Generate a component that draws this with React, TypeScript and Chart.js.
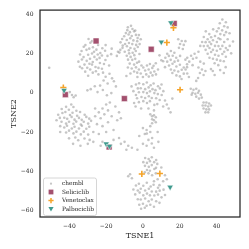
import React, { useEffect, useRef } from 'react';
import { Chart, registerables } from 'chart.js';

Chart.register(...registerables);

type Pt = [number, number];

const xTickValues = [-40, -20, 0, 20, 40];
const yTickValues = [-60, -40, -20, 0, 20, 40];
const seriesNames = ['chembl', 'Seliciclib', 'Venetoclax', 'Palbociclib'];

const chemblUpperLeft: Pt[] = [
  [-31.3, 24.2], [-28.6, 25.4], [-27.2, 23.1], [-24.4, 24.3], [-22.1, 22.6], [-33.4, 21.2], [-30.7, 21.8], [-29.2, 22.4], [-26.6, 20.8], [-25.3, 21.9],
  [-23.2, 20.2], [-20.6, 21.3], [-19.3, 18.7], [-34.2, 19.4], [-32.3, 18.1], [-29.8, 19.3], [-27.7, 19.9], [-26.4, 18.2], [-23.6, 17.7], [-22.3, 18.9],
  [-20.4, 16.6], [-35.1, 15.8], [-33.2, 16.9], [-30.6, 16.2], [-28.8, 17.3], [-27.3, 15.6], [-25.1, 16.9], [-23.4, 15.1], [-21.2, 14.6], [-34.3, 13.2],
  [-31.8, 14.3], [-30.3, 12.7], [-27.7, 14.3], [-25.8, 13.1], [-24.2, 12.6], [-31.4, 10.7], [-28.7, 11.8], [-27.3, 10.2], [-33.1, 12.4], [-29.8, 8.6],
  [-25.6, 10.9], [-22.3, 12.2], [-18.4, 13.8], [-17.3, 19.6], [-29.6, 27.3], [-32.2, 23.4], [-20.3, 24.2], [-27.7, 26.2], [-24.6, 19.4], [-29.1, 14.7],
  [-17, 22.4], [-12.8, 20.4],
];

const chemblLeftTail: Pt[] = [
  [-24.2, 9.3], [-21.7, 10.2], [-20.3, 8.1], [-18.2, 9.6], [-16.8, 7.3], [-21.4, 6.2], [-19.2, 4.7], [-15.8, 5.8], [-23.3, 3.6], [-26.2, 3.3],
  [-28.4, 1.8], [-24.7, 0.3], [-21.8, 1.4], [-30.2, 1.2], [-19.6, -1.3], [-17.2, -0.2], [-14.7, 3.2], [-39.8, 0.3], [-38.6, -1.2], [-37.7, -2.3],
  [-36.6, -1.4], [-51, 12.7],
];

const chemblUpperMid: Pt[] = [
  [-8.2, 33.3], [-5.7, 32.4], [-7.1, 30.8], [-4.8, 31.2], [-9.3, 30.3], [-10.2, 28.7], [-7.8, 29.6], [-6.1, 28.8], [-3.8, 29.4], [-2.9, 27.8],
  [-11.3, 27.3], [-8.8, 26.8], [-6.9, 27.7], [-5.2, 26.6], [-3.1, 26.2], [-1.8, 24.7], [-12.2, 25.6], [-9.7, 24.8], [-7.6, 25.3], [-5.8, 24.7],
  [-3.7, 24.3], [-11.1, 22.8], [-8.7, 23.6], [-6.8, 22.7], [-4.6, 22.3], [-2.8, 23.2], [-9.9, 20.8], [-7.7, 21.6], [-5.6, 20.3], [-3.9, 21.2],
  [-1.9, 19.7], [-8.8, 18.8], [-6.7, 18.2], [-4.7, 19.1], [-12.3, 21.8], [-13.6, 20.8], [-14.2, 18.7], [-1.2, 27.2], [-2.2, 29.3], [-4.2, 31.6],
  [-6.5, 34], [-8.5, 31.8], [-11, 24], [-7.5, 20],
];

const chemblMid: Pt[] = [
  [-8.1, 16.8], [-5.8, 16.7], [-4.2, 17.2], [-2.1, 15.8], [-7.2, 14.8], [-4.8, 14.3], [-3.2, 15.2], [-0.8, 13.8], [-8.2, 12.8], [-6.1, 12.3],
  [-3.8, 12.9], [-2.2, 11.8], [0.2, 12.8], [-4.8, 10.8], [-3.1, 10.2], [-6.8, 9.8], [-1.2, 9.8], [1.2, 11.3], [2.2, 13.8], [3.1, 11.8],
  [4.2, 10.2], [5.1, 12.6], [6.2, 10.8], [7.1, 9.3], [5.2, 8.8], [3.2, 8.2], [5.8, 13.7], [3.8, 14.6], [1.8, 9.3], [8.2, 11.8],
  [-9, 8.5], [0, 8], [-3, 8], [7, 15],
];

const chemblRightMid: Pt[] = [
  [19.2, 27.2], [21.1, 26.3], [20.2, 24.8], [22.2, 24.3], [23.1, 26.2], [19.6, 22.8], [21.7, 22.2], [13.2, 19.8], [15.2, 21.2], [17.1, 20.3],
  [12.2, 17.8], [14.1, 18.7], [16.2, 18.8], [18.1, 17.8], [20.2, 18.7], [13.2, 15.8], [15.1, 16.7], [17.2, 15.8], [19.1, 16.3], [14.2, 13.8],
  [16.1, 14.7], [18.2, 13.3], [20.1, 14.2], [22.2, 12.8], [15.2, 11.8], [17.1, 11.3], [19.2, 10.8], [21.1, 11.7], [23.2, 11.8], [18.2, 8.8],
  [20.1, 8.3], [22.2, 9.7], [24.1, 9.8], [21, 7], [16, 10], [12, 13], [11, 16], [24, 14.5], [25, 8], [9, 19], [10, 16.5],
];

const chemblUpperRight: Pt[] = [
  [43.2, 37.2], [45.1, 35.8], [41.8, 35.3], [44.2, 33.8], [46.1, 33.2], [41.2, 32.8], [43.1, 31.7], [45.2, 30.8], [40.2, 31.2], [42.1, 29.8],
  [44.2, 29.3], [47.1, 30.2], [39.2, 28.8], [41.1, 27.7], [38.2, 32.2], [36.1, 29.8], [34.2, 31.2], [33.1, 28.3], [35.2, 27.2], [37.1, 28.2],
  [32.2, 25.8], [34.1, 25.7], [36.2, 25.8], [38.1, 26.7], [40.2, 25.8], [42.1, 27.2], [44.2, 25.8], [46.1, 27.2], [31.2, 23.8], [33.1, 23.7],
  [35.2, 23.8], [37.1, 24.7], [39.2, 23.8], [41.1, 23.7], [43.2, 23.8], [45.1, 22.7], [47.2, 23.8], [34.1, 21.8], [36.2, 22.7], [38.1, 21.8],
  [40.2, 21.3], [42.1, 22.2], [44.2, 20.8], [46.1, 21.7], [35.2, 19.8], [37.1, 20.7], [39.2, 19.3], [41.1, 18.8], [43.2, 19.7], [45.1, 18.3],
  [36.2, 17.8], [38.1, 17.3], [40.2, 16.8], [42.1, 16.3], [39, 15], [41, 14], [44, 16], [48, 20], [49, 26],
  [30.2, 20.8], [28.1, 19.8], [26.2, 18.8], [24.1, 17.8], [27.2, 17.3], [29.1, 17.8], [25.2, 15.8], [23.1, 16.8], [27, 14], [24, 13],
  [31.2, 15.8], [33.1, 14.8], [30.2, 12.8], [32.1, 11.8], [31, 10], [33, 9], [30, 7.5], [29, 6], [34, 11], [37, 12],
  [39, 9], [38, 11], [45, 13], [44, 10], [42, 11.5],
];

const chemblSmallRight: Pt[] = [
  [26, 2], [27.5, 1.5], [29, 2], [30.5, 1], [27, 0], [28.5, -0.5], [30, 0], [31.5, -1], [29, -2], [30.5, -3],
  [32, -2.5], [26.5, -1], [33, -5], [34.5, -5], [36, -5.5], [32.5, -6.5], [34, -6.5], [35.5, -7], [37, -6.5], [33, -8],
  [34.5, -8.5], [36, -8.5], [34, -10], [35.5, -10],
];

const chemblCenter: Pt[] = [
  [-6.2, 3.2], [-3.8, 4.2], [-2.1, 4.8], [0.2, 4.3], [2.1, 5.2], [4.2, 3.8], [5.8, 4.7], [8.2, 3.3], [10.1, 4.2], [-5.2, 0.8],
  [-2.8, 2.2], [-1.2, 2.3], [1.2, 1.8], [3.1, 2.7], [5.2, 1.8], [6.8, 1.3], [9.2, 2.2], [11.1, 0.8], [-3.8, -1.2], [-2.2, 0.2],
  [0.2, 0.3], [2.2, -0.2], [3.8, 0.7], [6.2, -0.2], [8.1, -0.7], [10.2, -1.2], [-3.2, -2.8], [-0.8, -2.2], [1.2, -2.7], [3.2, -1.8],
  [4.8, -2.7], [7.2, -2.8], [9.1, -3.7], [-4.8, -5.2], [-2.2, -4.8], [0.2, -4.3], [2.2, -5.2], [3.8, -4.3], [6.2, -6.2], [7.8, -5.8],
  [-4, -7], [-1, -8], [3, -8], [6, -9], [12, -4], [13, -6], [14, -8], [15, -10], [11, -7], [16, -3],
];

const chemblLowerLeft: Pt[] = [
  [-44.2, -8.3], [-41.8, -7.2], [-40.3, -8.7], [-37.8, -7.3], [-36.2, -9.2], [-46.1, -11.2], [-43.8, -10.3], [-42.2, -9.8], [-39.7, -11.3], [-38.3, -10.2],
  [-35.8, -11.7], [-34.2, -9.8], [-31.7, -11.2], [-45.2, -12.8], [-42.8, -12.7], [-41.2, -13.3], [-38.8, -12.3], [-37.2, -13.7], [-34.8, -12.8], [-33.3, -13.8],
  [-30.8, -12.3], [-29.2, -13.2], [-44.3, -14.8], [-41.8, -15.7], [-40.2, -14.8], [-37.8, -15.8], [-36.3, -14.7], [-33.8, -16.2], [-32.2, -14.8], [-29.8, -15.7],
  [-28.2, -14.3], [-42.8, -17.7], [-41.3, -16.8], [-38.7, -18.2], [-37.2, -17.3], [-34.8, -18.2], [-33.2, -16.8], [-30.8, -18.3], [-29.2, -17.3], [-41.8, -20.2],
  [-40.2, -19.3], [-37.8, -20.7], [-36.2, -19.8], [-33.8, -21.2], [-32.2, -19.8], [-29.8, -21.3], [-40.2, -23.2], [-36.8, -22.8], [-35.2, -24.2], [-31.8, -23.3],
  [-29, -24], [-27, -25], [-38, -26], [-34, -27], [-30, -26], [-45, -17], [-47, -14], [-26, -12], [-24, -10], [-22, -8],
  [-20, -6], [-18, -5], [-26, -8], [-23, -13], [-21, -11], [-19, -9], [-17, -12], [-15, -7], [-13, -10], [-25, -16],
  [-22, -17], [-19, -15], [-14, -14], [-12, -13], [-27, -20], [-24, -21], [-20, -20], [-16, -19], [-13, -23], [-10, -25],
  [-8, -27], [-6, -28], [-23, -27], [-45, -20], [-39, -6], [-22, -25], [-16, -24], [-12, -26], [-9, -29],
];

const chemblLowerMid: Pt[] = [
  [4, -11], [5, -12], [6, -11.5], [7, -12.5], [5, -13.5], [6, -14], [7, -15], [5, -15.5], [0, -18], [2, -19],
  [1, -21], [4, -20], [-2, -22], [3, -24], [5, -23], [0, -26], [2, -27], [-3, -29], [6, -28], [4, -17],
  [8, -20], [2.1, -20.8], [4.8, -25.8], [8.4, -25],
];

const chemblBottom: Pt[] = [
  [1.2, -33.2], [3.1, -33.7], [4.8, -32.8], [7.2, -34.2], [0.2, -35.3], [2.2, -35.7], [3.8, -34.8], [6.1, -35.3], [7.8, -36.2], [1.1, -37.2],
  [3.2, -37.7], [4.8, -36.8], [7.1, -38.2], [2.2, -39.3], [3.8, -39.7], [6.2, -38.8], [3, -41], [5, -42], [1, -40.5], [7, -41],
  [-7, -41.5], [-6, -43.5], [-8, -42.5], [10, -38], [12, -42], [11, -45], [13, -44], [8, -44], [6, -45], [9, -47],
  [-3.8, -47.2], [-2.2, -46.3], [0.2, -47.3], [2.1, -45.8], [4.2, -47.7], [5.8, -46.8], [8.2, -48.3], [-5.2, -49.2], [-2.8, -49.7], [-1.2, -48.8],
  [1.2, -49.7], [3.2, -48.8], [4.8, -50.2], [7.2, -50.3], [9.1, -49.8], [11.2, -49.3], [-4.2, -51.7], [-1.8, -50.8], [0.2, -52.2], [2.2, -51.3],
  [3.8, -52.2], [6.2, -52.3], [8.2, -51.8], [10.1, -53.2], [-2.8, -54.2], [-1.2, -54.3], [1.2, -53.8], [3.1, -55.2], [4.8, -54.3], [7.2, -55.2],
  [-2, -57], [0, -56.5], [2, -57.5], [4, -57], [6, -58], [-1, -59], [1, -58.5], [9, -56], [12, -52],
];

const chemblPoints: Pt[] = [
  ...chemblUpperLeft, ...chemblLeftTail, ...chemblUpperMid, ...chemblMid, ...chemblRightMid,
  ...chemblUpperRight, ...chemblSmallRight, ...chemblCenter, ...chemblLowerLeft, ...chemblLowerMid, ...chemblBottom,
];

const seliciclibPoints: Pt[] = [[-25.5, 26.3], [4.5, 22.1], [17, 35.2], [-42.2, -1], [-10.1, -3], [-18.4, -27.6]];
const venetoclaxPoints: Pt[] = [[16.6, 33], [13, 25.5], [20.2, 1.5], [-43.3, 2.6], [-0.6, -41.3], [9.2, -41.1]];
const palbociclibPoints: Pt[] = [[15.2, 35.6], [10, 25.8], [-42.9, 1.2], [-20, -26], [-18.2, -27.2], [14.8, -48]];

const colors = {
  chembl: 'rgba(150,150,150,0.55)',
  seliciclib: '#a3506e',
  venetoclax: '#f5a42a',
  palbociclib: '#3f9a8e',
  text: '#262626',
};

const toXY = (pts: Pt[]) => pts.map(([x, y]) => ({ x, y }));
const fmt = (v: number) => (v < 0 ? '\u2212' + Math.abs(v) : String(v));

const framePlugin = {
  id: 'frameAndLegend',
  afterDraw(chart: any) {
    const { ctx, chartArea: ca } = chart;
    ctx.save();
    ctx.strokeStyle = colors.text;
    ctx.lineWidth = 1.25;
    ctx.strokeRect(ca.left, ca.top, ca.right - ca.left, ca.bottom - ca.top);

    const bx = ca.left + 3.5;
    const by = ca.bottom - 39;
    const bw = 53;
    const bh = 37.5;
    ctx.beginPath();
    const r = 2;
    ctx.moveTo(bx + r, by);
    ctx.arcTo(bx + bw, by, bx + bw, by + bh, r);
    ctx.arcTo(bx + bw, by + bh, bx, by + bh, r);
    ctx.arcTo(bx, by + bh, bx, by, r);
    ctx.arcTo(bx, by, bx + bw, by, r);
    ctx.closePath();
    ctx.fillStyle = 'rgba(255,255,255,0.85)';
    ctx.fill();
    ctx.strokeStyle = '#cccccc';
    ctx.lineWidth = 0.8;
    ctx.stroke();

    const mx = ca.left + 11;
    const tx = ca.left + 22;
    const rows = [ca.bottom - 33.3, ca.bottom - 25, ca.bottom - 16.4, ca.bottom - 8];
    ctx.font = '5.8px "DejaVu Serif"';
    ctx.textBaseline = 'middle';
    ctx.textAlign = 'left';
    rows.forEach((ry, i) => {
      ctx.fillStyle = colors.text;
      ctx.fillText(seriesNames[i], tx, ry);
      if (i === 0) {
        ctx.beginPath();
        ctx.arc(mx, ry, 1.1, 0, Math.PI * 2);
        ctx.fillStyle = colors.chembl;
        ctx.fill();
      } else if (i === 1) {
        ctx.fillStyle = colors.seliciclib;
        ctx.fillRect(mx - 2.4, ry - 2.4, 4.8, 4.8);
      } else if (i === 2) {
        ctx.strokeStyle = colors.venetoclax;
        ctx.lineWidth = 1.5;
        ctx.beginPath();
        ctx.moveTo(mx - 2.6, ry);
        ctx.lineTo(mx + 2.6, ry);
        ctx.moveTo(mx, ry - 2.6);
        ctx.lineTo(mx, ry + 2.6);
        ctx.stroke();
      } else {
        ctx.fillStyle = colors.palbociclib;
        ctx.beginPath();
        ctx.moveTo(mx - 2.6, ry - 2);
        ctx.lineTo(mx + 2.6, ry - 2);
        ctx.lineTo(mx, ry + 2.4);
        ctx.closePath();
        ctx.fill();
      }
    });
    ctx.restore();
  },
};

export default function App() {
  const ref = useRef<HTMLCanvasElement | null>(null);

  useEffect(() => {
    if (!ref.current) return;
    const chart = new Chart(ref.current, {
      type: 'scatter',
      data: {
        datasets: [
          {
            label: seriesNames[0],
            data: toXY(chemblPoints),
            pointRadius: 1.3,
            backgroundColor: colors.chembl,
            borderWidth: 0,
            order: 4,
          },
          {
            label: seriesNames[1],
            data: toXY(seliciclibPoints),
            pointStyle: 'rect',
            pointRadius: 4.2,
            backgroundColor: colors.seliciclib,
            borderColor: '#ffffff',
            borderWidth: 0.5,
            order: 3,
          },
          {
            label: seriesNames[2],
            data: toXY(venetoclaxPoints),
            pointStyle: 'cross',
            pointRadius: 3.1,
            backgroundColor: colors.venetoclax,
            borderColor: colors.venetoclax,
            borderWidth: 1.6,
            order: 2,
          },
          {
            label: seriesNames[3],
            data: toXY(palbociclibPoints),
            pointStyle: 'triangle',
            rotation: 180,
            pointRadius: 3.6,
            backgroundColor: colors.palbociclib,
            borderColor: '#ffffff',
            borderWidth: 0.5,
            order: 1,
          },
        ],
      },
      options: {
        responsive: false,
        animation: false,
        events: [],
        layout: { padding: { left: 0, right: 9, top: 8, bottom: 0 } },
        plugins: { legend: { display: false }, tooltip: { enabled: false } },
        scales: {
          x: {
            type: 'linear',
            min: -56,
            max: 52.8,
            grid: { display: false, drawTicks: false },
            border: { display: false },
            afterBuildTicks: (s: any) => {
              s.ticks = xTickValues.map((v) => ({ value: v }));
            },
            afterFit: (s: any) => {
              s.height = 32;
            },
            ticks: {
              padding: 5.5,
              color: colors.text,
              font: { family: '"DejaVu Serif"', size: 6 },
              callback: (v: any) => fmt(Number(v)),
              maxRotation: 0,
            },
            title: {
              display: true,
              text: 'TSNE1',
              color: colors.text,
              font: { family: '"DejaVu Serif"', size: 8 },
              padding: { top: 0, bottom: 8.7 },
            },
          },
          y: {
            type: 'linear',
            min: -63.2,
            max: 42,
            grid: { display: false, drawTicks: false },
            border: { display: false },
            afterBuildTicks: (s: any) => {
              s.ticks = yTickValues.map((v) => ({ value: v }));
            },
            afterFit: (s: any) => {
              s.width = 40;
            },
            ticks: {
              padding: 6.5,
              color: colors.text,
              font: { family: '"DejaVu Serif"', size: 6 },
              callback: (v: any) => fmt(Number(v)),
            },
            title: {
              display: true,
              text: 'TSNE2',
              color: colors.text,
              font: { family: '"DejaVu Serif"', size: 8 },
              padding: { top: 8.7, bottom: 0 },
            },
          },
        },
      },
      plugins: [framePlugin],
    } as any);
    return () => chart.destroy();
  }, []);

  return (
    <div style={{ position: 'absolute', left: 0, top: 0, width: 249, height: 249, background: '#fff' }}>
      <canvas ref={ref} width={249} height={249} style={{ display: 'block' }} />
    </div>
  );
}
